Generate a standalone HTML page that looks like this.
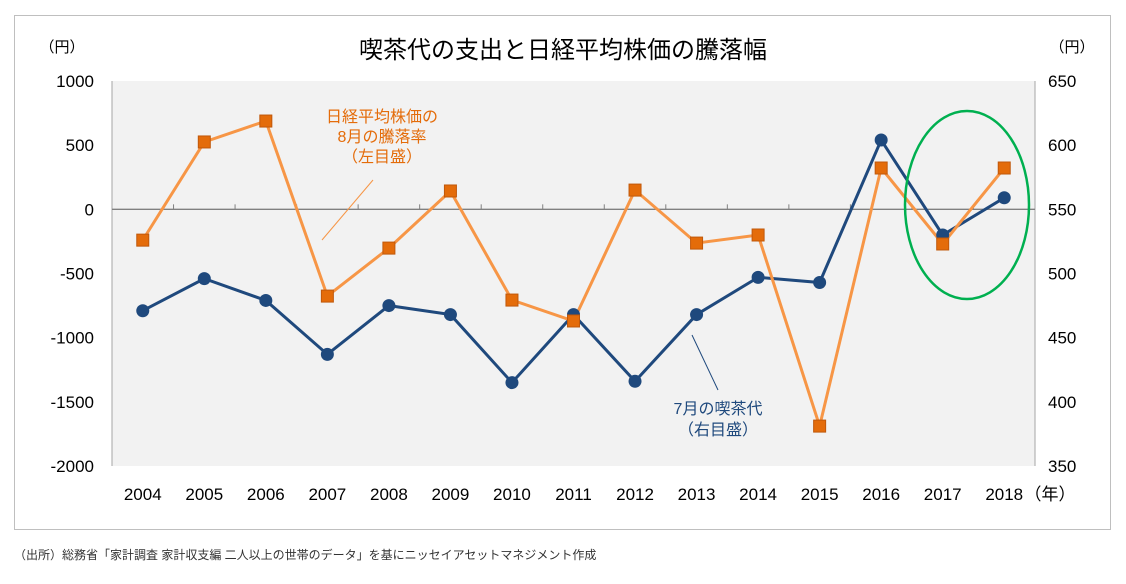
<!DOCTYPE html>
<html><head><meta charset="utf-8"><style>
body{margin:0;background:#fff;width:1126px;height:579px;overflow:hidden;font-family:"Liberation Sans","Noto Sans CJK JP",sans-serif}
</style></head><body>
<svg width="1126" height="579" xmlns="http://www.w3.org/2000/svg" style="font-family:'Liberation Sans','Noto Sans CJK JP',sans-serif">
<rect x="14.5" y="15.5" width="1096" height="514" fill="#fff" stroke="#bfbfbf"/>
<rect x="112" y="81" width="923" height="385" fill="#f2f2f2"/>
<line x1="112" y1="81" x2="112" y2="466" stroke="#a6a6a6"/>
<line x1="1035" y1="81" x2="1035" y2="466" stroke="#a6a6a6"/>
<text x="563" y="58" font-size="24" text-anchor="middle" fill="#000">喫茶代の支出と日経平均株価の騰落幅</text>
<text x="62" y="52" font-size="15" text-anchor="middle">（円）</text>
<text x="1072" y="52" font-size="15" text-anchor="middle">（円）</text>
<text x="1050" y="500" font-size="17" text-anchor="middle">（年）</text>
<text x="14" y="559" font-size="12" fill="#333">（出所）総務省「家計調査 家計収支編 二人以上の世帯のデータ」を基にニッセイアセットマネジメント作成</text>
<g id="g"></g>
<line x1="322" y1="240" x2="373" y2="180" stroke="#f79646" stroke-width="1"/>
<text font-size="16" fill="#e46c0a" text-anchor="middle"><tspan x="382" y="122">日経平均株価の</tspan><tspan x="382" y="142">8月の騰落率</tspan><tspan x="382" y="162">（左目盛）</tspan></text>
<line x1="692" y1="335" x2="718" y2="390" stroke="#1f497d" stroke-width="1"/>
<text font-size="16" fill="#1f497d" text-anchor="middle"><tspan x="718" y="414">7月の喫茶代</tspan><tspan x="718" y="435">（右目盛）</tspan></text>
<ellipse cx="967" cy="205" rx="62" ry="94" fill="none" stroke="#00b050" stroke-width="2.5"/>
</svg>
<script>
const years=["2004","2005","2006","2007","2008","2009","2010","2011","2012","2013","2014","2015","2016","2017","2018"];
const stockChange=[-240,525,688,-676,-302,143,-707,-870,150,-263,-200,-1689,322,-270,322];
const coffeeSpend=[471,496,479,437,475,468,415,468,416,468,497,493,604,530,559];
const leftTicks=[1000,500,0,-500,-1000,-1500,-2000];
const rightTicks=[650,600,550,500,450,400,350];
const NS="http://www.w3.org/2000/svg";
const g=document.getElementById('g');
const X0=112,X1=1035,Y0=81,Y1=466;
const bw=(X1-X0)/years.length;
const xs=i=>X0+bw*(i+0.5);
const yl=v=>Y0+(1000-v)/3000*(Y1-Y0);
const yr=v=>Y0+(650-v)/300*(Y1-Y0);
function mk(t,a){const e=document.createElementNS(NS,t);for(const k in a)e.setAttribute(k,a[k]);g.appendChild(e);return e;}
const z=yl(0);
let e=mk('line',{x1:X0,y1:z,x2:X1,y2:z,stroke:'#808080','stroke-width':1.3});


for(let i=1;i<years.length;i++){e=mk('line',{x1:X0+bw*i,y1:z,x2:X0+bw*i,y2:z-5,stroke:'#808080'});

}
years.forEach((y,i)=>{e=mk('text',{x:xs(i),y:500,'font-size':17,'text-anchor':'middle'});e.textContent=y;

});
leftTicks.forEach(v=>{e=mk('text',{x:94,y:yl(v)+6,'font-size':17,'text-anchor':'end'});e.textContent=v;

});
rightTicks.forEach(v=>{e=mk('text',{x:1048,y:yr(v)+6,'font-size':17});e.textContent=v;

});
e=mk('polyline',{points:coffeeSpend.map((v,i)=>xs(i)+','+yr(v)).join(' '),fill:'none',stroke:'#1f497d','stroke-width':3});


e=mk('polyline',{points:stockChange.map((v,i)=>xs(i)+','+yl(v)).join(' '),fill:'none',stroke:'#f79646','stroke-width':3});


coffeeSpend.forEach((v,i)=>{e=mk('circle',{cx:xs(i),cy:yr(v),r:6.5,fill:'#1f497d'});

});
stockChange.forEach((v,i)=>{e=mk('rect',{x:xs(i)-6,y:yl(v)-6,width:12,height:12,fill:'#e46c0a',stroke:'#c0580a','stroke-width':1});

});
</script>
</body></html>
